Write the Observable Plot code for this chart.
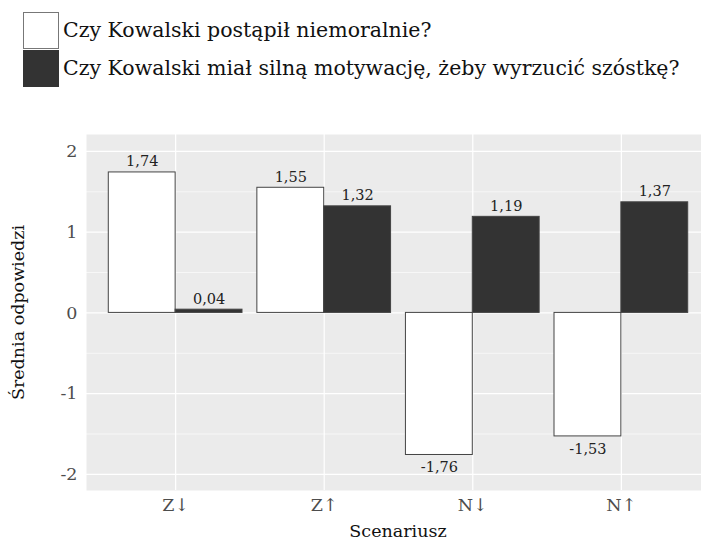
<!DOCTYPE html>
<html>
<head>
<meta charset="utf-8">
<script src="https://cdn.jsdelivr.net/npm/d3@7"></script>
<script src="https://cdn.jsdelivr.net/npm/@observablehq/plot@0.6"></script>
<style>
  html, body { margin: 0; padding: 0; background: #fff; overflow: hidden; }
  #wrap { width: 701px; height: 542px; position: relative; font-family: "DejaVu Serif", "DejaVu Sans", sans-serif; }
  #legend { position: relative; width: 701px; height: 100px; }
  .key { position: absolute; left: 23px; width: 36px; height: 37px; box-sizing: border-box; border: 1px solid #777; }
  .lab { position: absolute; left: 63px; height: 37px; line-height: 37px; font-size: 20.5px; color: #111; white-space: nowrap; }
  svg { display: block; }
</style>
</head>
<body>
<div id="wrap">
  <div id="legend"></div>
  <div id="chart"></div>
</div>
<script>
const scenarios = ["Z↓", "Z↑", "N↓", "N↑"];
const questions = ["Czy Kowalski postąpił niemoralnie?", "Czy Kowalski miał silną motywację, żeby wyrzucić szóstkę?"];
const niemoralnie = [1.74, 1.55, -1.76, -1.53];
const motywacja = [0.04, 1.32, 1.19, 1.37];
const colors = ["#ffffff", "#333333"];
const yTicks = [-2, -1, 0, 1, 2];
const yMinor = [-1.5, -0.5, 0.5, 1.5];

const series = [niemoralnie, motywacja];
const data = [];
scenarios.forEach((s, i) => series.forEach((vals, j) => data.push({scenario: s, question: questions[j], value: vals[i], i, j})));

// legend
const legend = document.getElementById("legend");
questions.forEach((q, j) => {
  const k = document.createElement("div");
  k.className = "key";
  k.style.top = (11.5 + j * 38.5) + "px";
  k.style.background = colors[j];
  if (j === 1) k.style.borderColor = "#333";
  legend.appendChild(k);
  const t = document.createElement("div");
  t.className = "lab";
  t.style.top = (11.5 + j * 38.5) + "px";
  t.textContent = q;
  legend.appendChild(t);
});

const fmt = v => v.toFixed(2).replace(".", ",");
const pos = d => d.i - 0.225 + d.j * 0.45;
const FONT = '"DejaVu Serif", "DejaVu Sans", sans-serif';

const chart = Plot.plot({
  width: 701,
  height: 442,
  marginTop: 34,
  marginBottom: 52,
  marginLeft: 86,
  marginRight: 0,
  style: {fontFamily: FONT, fontSize: "17px", background: "white", color: "#111"},
  x: {domain: [-0.6, 3.6], range: [86, 710]},
  y: {domain: [-2.2, 2.21]},
  color: {domain: questions, range: colors},
  marks: [
    Plot.frame({fill: "#ebebeb", stroke: null}),
    Plot.gridY(yMinor, {stroke: "white", strokeOpacity: 1, strokeWidth: 0.6}),
    Plot.gridY(yTicks, {stroke: "white", strokeOpacity: 1, strokeWidth: 1.2}),
    Plot.gridX([0, 1, 2, 3], {stroke: "white", strokeOpacity: 1, strokeWidth: 1.2}),
    Plot.axisY(yTicks, {tickSize: 0, tickPadding: 9, tickFormat: d => String(d), fill: "#4d4d4d", fontSize: 17.5,
      label: "Średnia odpowiedzi", labelAnchor: "center", labelArrow: "none", labelOffset: 75}),
    Plot.axisX([0, 1, 2, 3], {tickSize: 0, tickPadding: 8, tickFormat: i => scenarios[i], fill: "#4d4d4d", fontSize: 17.5,
      label: "Scenariusz", labelAnchor: "center", labelArrow: "none", labelOffset: 46}),
    Plot.rectY(data, {x1: d => d.i - 0.45 + d.j * 0.45, x2: d => d.i + d.j * 0.45, y: "value", fill: "question", stroke: "#444", strokeWidth: 1}),
    Plot.text(data.filter(d => d.value >= 0), {x: pos, y: "value", text: d => fmt(d.value), lineAnchor: "bottom", dy: -6, fontSize: 14.5, fill: "#222"}),
    Plot.text(data.filter(d => d.value < 0), {x: pos, y: "value", text: d => fmt(d.value), lineAnchor: "top", dy: 7, fontSize: 14.5, fill: "#222"})
  ]
});
chart.querySelectorAll("g[aria-label='y-axis label'], g[aria-label='x-axis label']").forEach(g => {
  g.setAttribute("fill", "#111");
  g.querySelectorAll("text").forEach(t => { t.setAttribute("font-size", "17.5"); t.setAttribute("fill", "#111"); });
});
chart.querySelectorAll("g[aria-label='x-axis label'] text").forEach(t => t.setAttribute("dx", "4"));
document.getElementById("chart").appendChild(chart);
</script>
</body>
</html>
